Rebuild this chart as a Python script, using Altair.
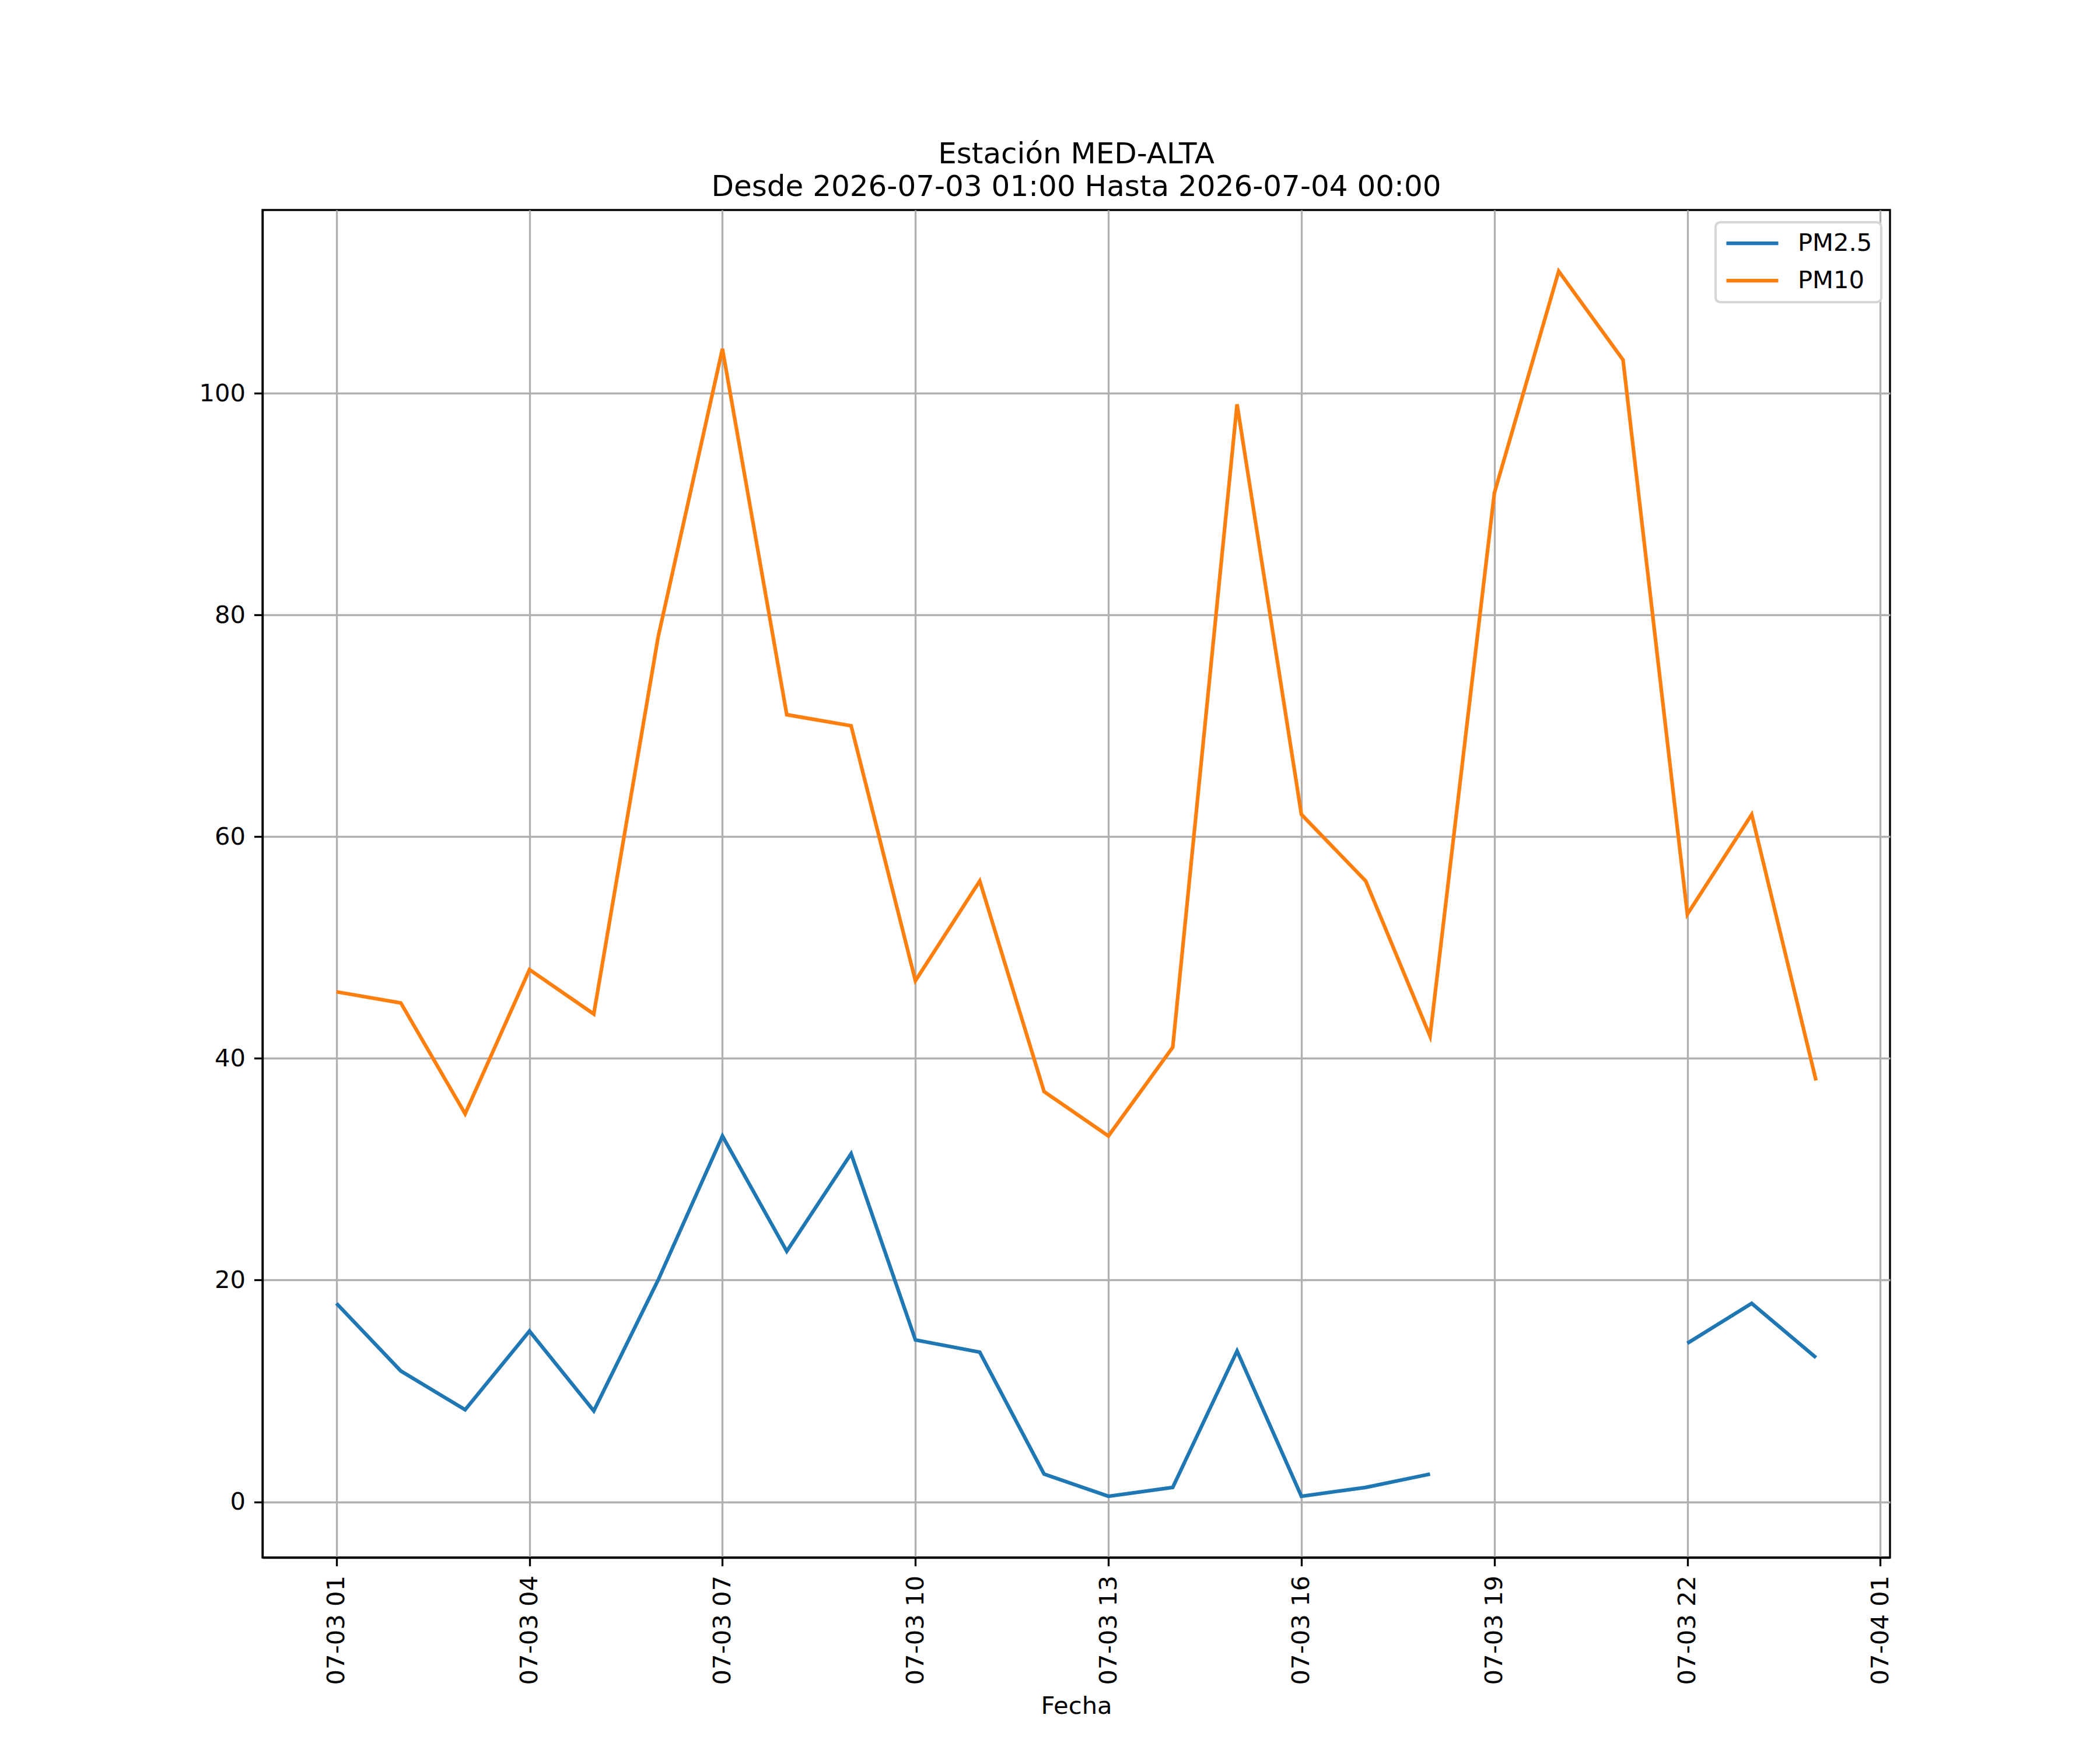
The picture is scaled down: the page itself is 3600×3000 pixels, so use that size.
import altair as alt
import pandas as pd

# ---- data ----
horas = [
    "2026-07-03T01:00:00", "2026-07-03T02:00:00", "2026-07-03T03:00:00",
    "2026-07-03T04:00:00", "2026-07-03T05:00:00", "2026-07-03T06:00:00",
    "2026-07-03T07:00:00", "2026-07-03T08:00:00", "2026-07-03T09:00:00",
    "2026-07-03T10:00:00", "2026-07-03T11:00:00", "2026-07-03T12:00:00",
    "2026-07-03T13:00:00", "2026-07-03T14:00:00", "2026-07-03T15:00:00",
    "2026-07-03T16:00:00", "2026-07-03T17:00:00", "2026-07-03T18:00:00",
    "2026-07-03T19:00:00", "2026-07-03T20:00:00", "2026-07-03T21:00:00",
    "2026-07-03T22:00:00", "2026-07-03T23:00:00", "2026-07-04T00:00:00",
]
pm25 = [17.9, 11.8, 8.3, 15.4, 8.2, 20.0, 33.0, 22.6, 31.4, 14.6, 13.5, 2.5,
        0.5, 1.3, 13.6, 0.5, 1.3, 2.5, None, None, None, 14.3, 17.9, 13.0]
pm10 = [46, 45, 35, 48, 44, 78, 104, 71, 70, 47, 56, 37,
        33, 41, 99, 62, 56, 42, 91, 111, 103, 53, 62, 38]
series = ["PM2.5", "PM10"]
colors = ["#1f77b4", "#ff7f0e"]
tick_hours = [(3, 1), (3, 4), (3, 7), (3, 10), (3, 13), (3, 16), (3, 19), (3, 22), (4, 1)]

title_lines = ["Estación MED-ALTA", "Desde 2026-07-03 01:00 Hasta 2026-07-04 00:00"]

rows = []
for t, a, b in zip(horas, pm25, pm10):
    rows.append({"Fecha": t, "serie": "PM2.5", "valor": a})
    rows.append({"Fecha": t, "serie": "PM10", "valor": b})
df = pd.DataFrame(rows)

FONT = "DejaVu Sans"
PT = 300 / 72.0
LW = 0.8 * PT


def build(legend_stroke=True):
    x_domain = [alt.DateTime(year=2026, month=7, date=2, hours=23, minutes=51),
                alt.DateTime(year=2026, month=7, date=4, hours=1, minutes=9)]
    x_vals = [alt.DateTime(year=2026, month=7, date=d, hours=h) for d, h in tick_hours]

    base = alt.Chart(df).mark_line(
        strokeWidth=1.5 * PT, invalid="break-paths-show-domains", clip=True
    ).encode(
        x=alt.X("Fecha:T",
                scale=alt.Scale(domain=x_domain, nice=False),
                axis=alt.Axis(values=x_vals, format="%m-%d %H", labelAngle=270,
                              labelAlign="right", labelBaseline="middle",
                              labelPadding=16, labelOverlap=False, labelFlush=False,
                              labelLimit=600,
                              title="Fecha", titleX=1395, titleY=267,
                              titleAlign="center", titleBaseline="alphabetic")),
        y=alt.Y("valor:Q",
                scale=alt.Scale(domain=[-5.025, 116.525], nice=False, zero=False),
                axis=alt.Axis(values=[0, 20, 40, 60, 80, 100], format="d",
                              labelPadding=15, title=None)),
        color=alt.Color("serie:N",
                        scale=alt.Scale(domain=series, range=colors),
                        sort=series,
                        legend=alt.Legend(title=None, orient="none",
                                          legendX=2491, legendY=21,
                                          symbolType="stroke", symbolSize=7921,
                                          symbolStrokeWidth=1.5 * PT,
                                          labelOffset=30, clipHeight=42,
                                          rowPadding=21, padding=15,
                                          cornerRadius=8,
                                          strokeColor="#d6d6d6",
                                          fillColor="white",
                                          labelFont=FONT, labelFontSize=10 * PT,
                                          labelColor="black")),
        detail="serie:N",
    )

    chart = base.properties(
        width=2790, height=2310,
        title=alt.TitleParams(text=title_lines, font=FONT, fontSize=12 * PT,
                              fontWeight="normal", color="black", anchor="middle",
                              lineHeight=56, offset=14),
        padding={"left": 442, "top": 352, "right": 352, "bottom": 322},
        autosize="none",
    ).configure_view(
        stroke="black", strokeWidth=LW
    ).configure_axis(
        domainColor="black", domainWidth=LW,
        tickColor="black", tickWidth=LW, tickSize=3.5 * PT,
        gridColor="#b0b0b0", gridWidth=LW, grid=True,
        labelFont=FONT, labelFontSize=10 * PT, labelColor="black",
        titleFont=FONT, titleFontSize=10 * PT, titleColor="black",
        titleFontWeight="normal",
    )
    if legend_stroke:
        chart = chart.configure_legend(strokeWidth=1.0 * PT)
    return chart


try:
    chart = build(True)
    chart.save("out.html", embed_options={"renderer": "svg", "actions": False})
except Exception:
    chart = build(False)
    chart.save("out.html", embed_options={"renderer": "svg", "actions": False})
